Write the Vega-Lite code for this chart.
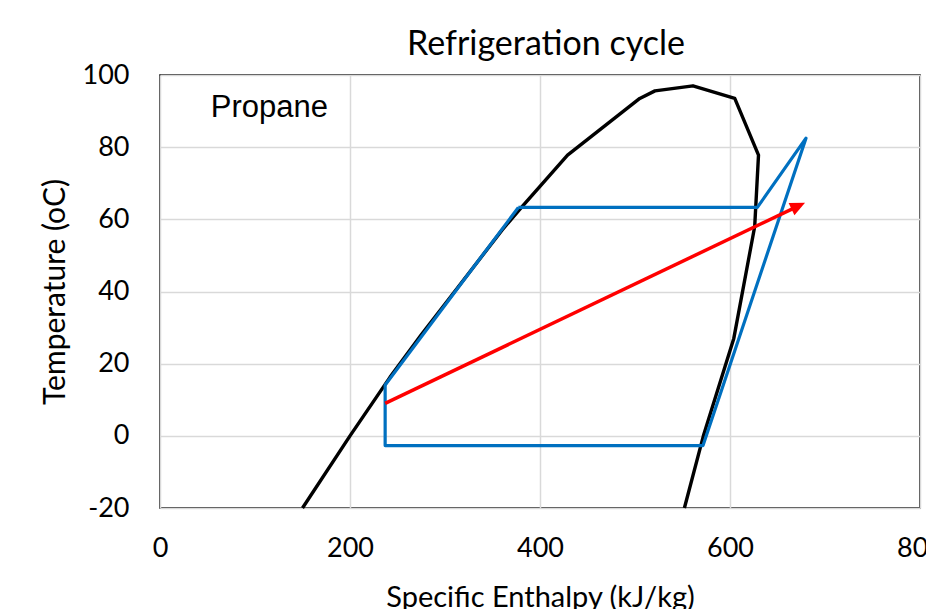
{
  "$schema": "https://vega.github.io/schema/vega-lite/v6.json",
  "width": 760,
  "height": 433,
  "autosize": "none",
  "padding": {"left": 160, "top": 75, "right": 6, "bottom": 101},
  "background": "white",
  "title": {
    "text": "Refrigeration cycle",
    "font": "Lato",
    "fontSize": 34,
    "fontWeight": "normal",
    "color": "black",
    "anchor": "middle",
    "baseline": "alphabetic",
    "offset": 21,
    "dy": 49,
    "dx": 6
  },
  "config": {
    "view": {"stroke": "black", "strokeWidth": 1.5},
    "axis": {
      "grid": true,
      "gridColor": "#d9d9d9",
      "gridWidth": 1.5,
      "domain": false,
      "ticks": false,
      "labelFont": "Lato",
      "labelFontSize": 27,
      "labelColor": "black",
      "labelFlush": false,
      "labelOverlap": false,
      "titleFont": "Lato",
      "titleFontWeight": "normal",
      "titleColor": "black"
    }
  },
  "datasets": {
    "dome": [
      {"i": 1, "h": 150, "T": -20},
      {"i": 2, "h": 200, "T": 0},
      {"i": 3, "h": 242, "T": 16.2},
      {"i": 4, "h": 275, "T": 28},
      {"i": 5, "h": 309, "T": 39.6},
      {"i": 6, "h": 360, "T": 57},
      {"i": 7, "h": 380, "T": 63.2},
      {"i": 8, "h": 429, "T": 77.8},
      {"i": 9, "h": 505, "T": 93.5},
      {"i": 10, "h": 521, "T": 95.6},
      {"i": 11, "h": 561, "T": 97},
      {"i": 12, "h": 605, "T": 93.5},
      {"i": 13, "h": 630, "T": 77.8},
      {"i": 14, "h": 626, "T": 58},
      {"i": 15, "h": 604, "T": 27},
      {"i": 16, "h": 572, "T": 0},
      {"i": 17, "h": 552, "T": -20}
    ],
    "cycle": [
      {"i": 1, "h": 377.2, "T": 63.3},
      {"i": 2, "h": 237, "T": 14.1},
      {"i": 3, "h": 237, "T": -2.7},
      {"i": 4, "h": 571.6, "T": -2.7},
      {"i": 5, "h": 680, "T": 82.5},
      {"i": 6, "h": 628.8, "T": 63.3},
      {"i": 7, "h": 377.2, "T": 63.3}
    ],
    "arrow": [
      {"i": 1, "h": 237, "T": 9.0},
      {"i": 2, "h": 669.5, "T": 63.4}
    ],
    "tip": [
      {"h": 679, "T": 64.6}
    ],
    "labels": [
      {"h": 53.4, "T": 88.4, "text": "Propane"}
    ]
  },
  "encoding": {
    "x": {
      "field": "h",
      "type": "quantitative",
      "scale": {"domain": [0, 800], "nice": false, "zero": false},
      "axis": {
        "values": [0, 200, 400, 600, 800],
        "title": "Specific Enthalpy (kJ/kg)",
        "titleFontSize": 29,
        "labelPadding": 27,
        "titlePadding": 22
      }
    },
    "y": {
      "field": "T",
      "type": "quantitative",
      "scale": {"domain": [-20, 100], "nice": false, "zero": false},
      "axis": {
        "values": [-20, 0, 20, 40, 60, 80, 100],
        "labelExpr": "replace(datum.label, '\u2212', '-')",
        "title": "Temperature (oC)",
        "titleFontSize": 30,
        "labelPadding": 31,
        "titlePadding": 12
      }
    }
  },
  "layer": [
    {
      "data": {"name": "dome"},
      "mark": {"type": "line", "color": "black", "strokeWidth": 3.4, "strokeJoin": "round"},
      "encoding": {"order": {"field": "i", "type": "quantitative"}}
    },
    {
      "data": {"name": "cycle"},
      "mark": {"type": "line", "color": "#0070C0", "strokeWidth": 3.2, "strokeJoin": "round"},
      "encoding": {"order": {"field": "i", "type": "quantitative"}}
    },
    {
      "data": {"name": "arrow"},
      "mark": {"type": "line", "color": "#FF0000", "strokeWidth": 3.5},
      "encoding": {"order": {"field": "i", "type": "quantitative"}}
    },
    {
      "data": {"name": "tip"},
      "mark": {
        "type": "point",
        "shape": "M0,0L-2,-0.9L-2,0.9Z",
        "size": 225,
        "angle": 334.5,
        "filled": true,
        "color": "#FF0000",
        "opacity": 1,
        "strokeWidth": 0
      }
    },
    {
      "data": {"name": "labels"},
      "mark": {
        "type": "text",
        "font": "Liberation Sans",
        "fontSize": 31,
        "align": "left",
        "baseline": "alphabetic",
        "color": "black"
      },
      "encoding": {"text": {"field": "text"}}
    }
  ]
}
